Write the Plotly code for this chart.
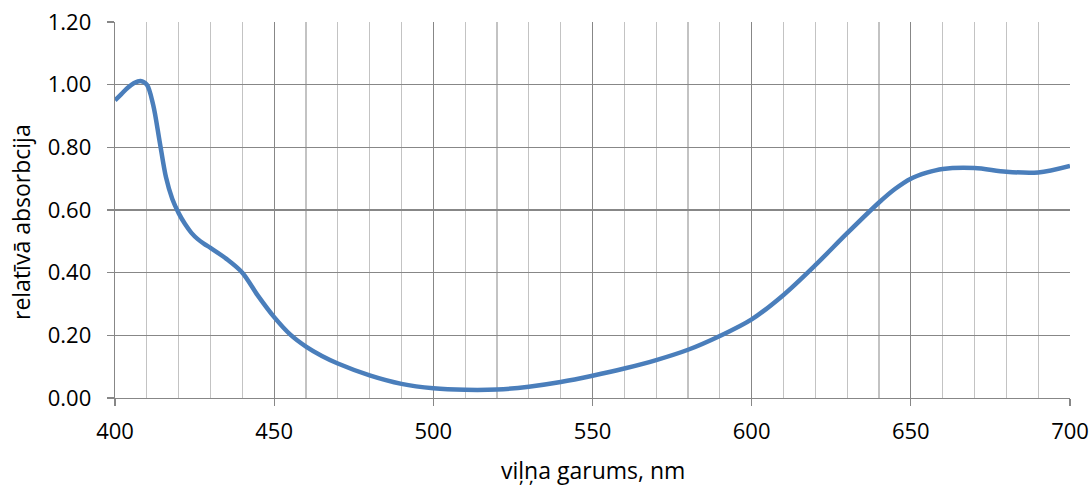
import plotly.graph_objects as go

wavelength = [400, 402, 404, 406, 408, 410, 412, 414, 416, 418, 420, 422, 424, 426, 428, 430,
              435, 440, 445, 450, 455, 460, 465,
              470, 480, 490, 500, 510, 520, 530, 540, 550, 560, 570, 580, 590, 600, 610, 620,
              630, 640, 645, 650, 655, 660, 670, 680, 690, 700]
absorption = [0.95, 0.97, 0.99, 1.005, 1.012, 1.0, 0.935, 0.82, 0.705, 0.635, 0.59, 0.555,
              0.527, 0.507, 0.492, 0.479,
              0.444, 0.40, 0.325, 0.258, 0.203, 0.164, 0.134,
              0.110, 0.072, 0.045, 0.031, 0.026, 0.027, 0.036, 0.051, 0.071, 0.094, 0.121,
              0.154, 0.198, 0.251, 0.329, 0.424, 0.526, 0.624, 0.667, 0.700, 0.719, 0.731,
              0.734, 0.722, 0.72, 0.741]

x_title = "viļņa garums, nm"
y_title = "relatīvā absorbcija"
y_ticks = [0, 0.2, 0.4, 0.6, 0.8, 1.0, 1.2]
y_ticklabels = ["0.00", "0.20", "0.40", "0.60", "0.80", "1.00", "1.20"]
x_ticks = [400, 450, 500, 550, 600, 650, 700]

FONT = "Open Sans, Liberation Sans, sans-serif"
major = "#878787"
minor = "#c3c3c3"

W, H = 1092, 485
ML, MR, MT, MB = 115, 22, 22, 87

fig = go.Figure()
fig.add_trace(go.Scatter(
    x=wavelength, y=absorption, mode="lines",
    line=dict(color="#4a7ebb", width=4.5, shape="spline", smoothing=0.9),
    hoverinfo="skip", showlegend=False,
))

pw = W - ML - MR
ph = H - MT - MB

fig.update_layout(
    width=W, height=H,
    margin=dict(l=ML, r=MR, t=MT, b=MB),
    paper_bgcolor="white", plot_bgcolor="white",
    font=dict(family=FONT, size=22, color="#000000"),
    xaxis=dict(
        range=[400, 700], tickvals=x_ticks, ticktext=[str(v) for v in x_ticks],
        showgrid=True, gridcolor=major, gridwidth=1.3,
        minor=dict(dtick=10, tick0=400, showgrid=True, gridcolor=minor, gridwidth=1.3, ticks=""),
        ticks="outside", ticklen=7, tickcolor=major, tickwidth=1.3,
        showline=True, linecolor=major, linewidth=1.3,
        zeroline=False, ticklabelstandoff=6, automargin=False,
        tickfont=dict(family=FONT, size=22),
    ),
    yaxis=dict(
        range=[0, 1.2], tickvals=y_ticks, ticktext=y_ticklabels,
        showgrid=True, gridcolor=major, gridwidth=1.3,
        ticks="outside", ticklen=7, tickcolor=major, tickwidth=1.3,
        showline=True, linecolor=major, linewidth=1.3,
        zeroline=False, ticklabelstandoff=11, automargin=False,
        tickfont=dict(family=FONT, size=22),
    ),
    annotations=[
        dict(text=x_title, x=0.5, y=(H - MB - 470) / ph, xref="paper", yref="paper",
             showarrow=False, xanchor="center", yanchor="middle",
             font=dict(family=FONT, size=23)),
        dict(text=y_title, x=(21 - ML) / pw, y=(H - MB - 222) / ph, xref="paper", yref="paper",
             textangle=-90, showarrow=False, xanchor="center", yanchor="middle",
             font=dict(family=FONT, size=23)),
    ],
)

fig.write_html(
    "out.html",
    config={"displayModeBar": False, "staticPlot": True},
    post_script="document.body.style.margin='0';document.body.style.overflow='hidden';",
)
